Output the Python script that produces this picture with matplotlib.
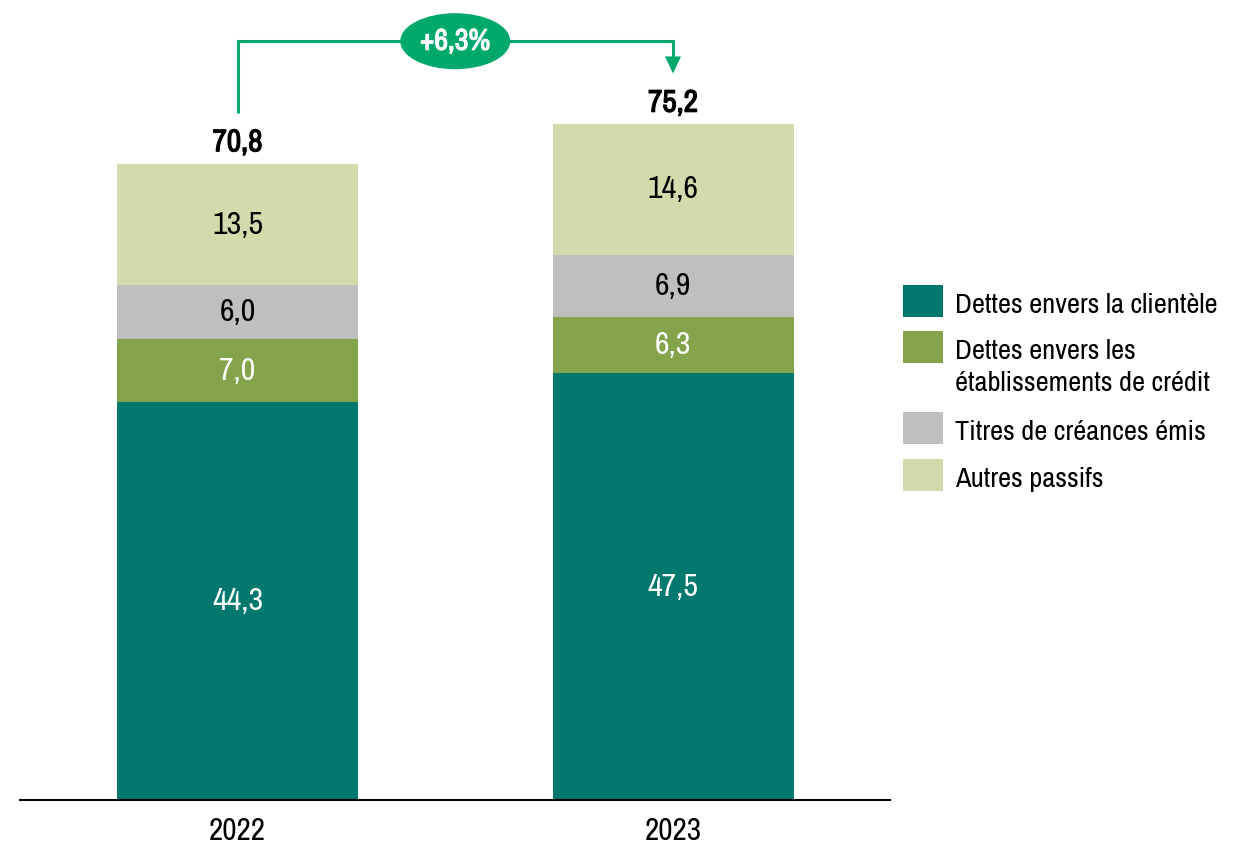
import matplotlib
matplotlib.use("Agg")
import matplotlib.pyplot as plt
from matplotlib.patches import Ellipse, Polygon, Rectangle
import matplotlib.patheffects as pe
import numpy as np

plt.rcParams['font.family'] = ['Archivo Narrow', 'DejaVu Sans']

# ---- data ----
years = ["2022", "2023"]
categories = ["Dettes envers la clientèle",
              "Dettes envers les\nétablissements de crédit",
              "Titres de créances émis",
              "Autres passifs"]
clientele = [44.3, 47.5]
etablissements = [7.0, 6.3]
titres = [6.0, 6.9]
autres = [13.5, 14.6]
totals = [70.8, 75.2]
growth_label = "+6,3%"

series = [clientele, etablissements, titres, autres]
colors = ["#00786E", "#84A44C", "#BFBFBF", "#D3DBAC"]
text_colors = ["white", "white", "black", "black"]
accent = "#00A86B"

W, H = 1237, 847
fig = plt.figure(figsize=(W / 100, H / 100), dpi=100)

ax = fig.add_axes([20 / W, (H - 800) / H, 870 / W, 800 / H])
px_per_unit = 8.98
ax.set_ylim(0, 800 / px_per_unit)
xs = np.arange(len(years))
sep = 435.5
ax.set_xlim(-217.5 / sep, (870 - 217.5) / sep)
bar_w = 241 / sep

def bold(color):
    return [pe.withStroke(linewidth=0.9, foreground=color)]

bottom = np.zeros(len(years))
for vals, c, tc in zip(series, colors, text_colors):
    vals = np.array(vals)
    ax.bar(xs, vals, bar_w, bottom=bottom, color=c, edgecolor='none')
    for x, b, v in zip(xs, bottom, vals):
        ax.text(x, b + v / 2, f"{v:.1f}".replace('.', ','), ha='center', va='center',
                color=tc, fontsize=23)
    bottom += vals

for x, t in zip(xs, totals):
    ax.text(x, t + 2.45, f"{t:.1f}".replace('.', ','), ha='center', va='center',
            fontsize=22.5, color='black', path_effects=bold('black'))

# growth arrow
y_top = max(totals) + 9.3
gap = 5.7
lw = 2.2
ax.plot([xs[0], xs[0], xs[1], xs[1]],
        [totals[0] + gap, y_top, y_top, totals[1] + gap + 1.8],
        color=accent, lw=lw, solid_joinstyle='miter', solid_capstyle='butt')
tri_w = 16 / sep / 2
ax.add_patch(Polygon([[xs[1] - tri_w, totals[1] + gap + 1.9],
                      [xs[1] + tri_w, totals[1] + gap + 1.9],
                      [xs[1], totals[1] + gap]], closed=True,
                     facecolor=accent, edgecolor='none'))
xm = (xs[0] + xs[1]) / 2
ax.add_patch(Ellipse((xm, y_top), 110 / sep, 56 / px_per_unit,
                     facecolor=accent, edgecolor='none', zorder=3))
ax.text(xm, y_top, growth_label, ha='center', va='center', color='white',
        fontsize=21.5, zorder=4, path_effects=bold('white'))

for s in ['top', 'right', 'left']:
    ax.spines[s].set_visible(False)
ax.spines['bottom'].set_linewidth(1.5)
ax.spines['bottom'].set_color('black')
ax.set_yticks([])
ax.set_xticks(xs)
ax.set_xticklabels(years, fontsize=22.5)
ax.tick_params(axis='x', length=0, pad=12)

# legend (manual: square aligned with first text line)
def fy(py):
    return (H - py) / H

sq_tops = [285, 331, 412, 459]
line_h = 32
for top, c, lab in zip(sq_tops, colors, categories):
    fig.add_artist(Rectangle((903 / W, fy(top + 32)), 40 / W, 32 / H,
                             transform=fig.transFigure, facecolor=c, edgecolor='none'))
    for k, line in enumerate(lab.split("\n")):
        fig.text(955 / W, fy(top + 28 + k * line_h), line, ha='left', va='baseline',
                 fontsize=20.5, color='black')

fig.savefig("out.png", dpi=100)
